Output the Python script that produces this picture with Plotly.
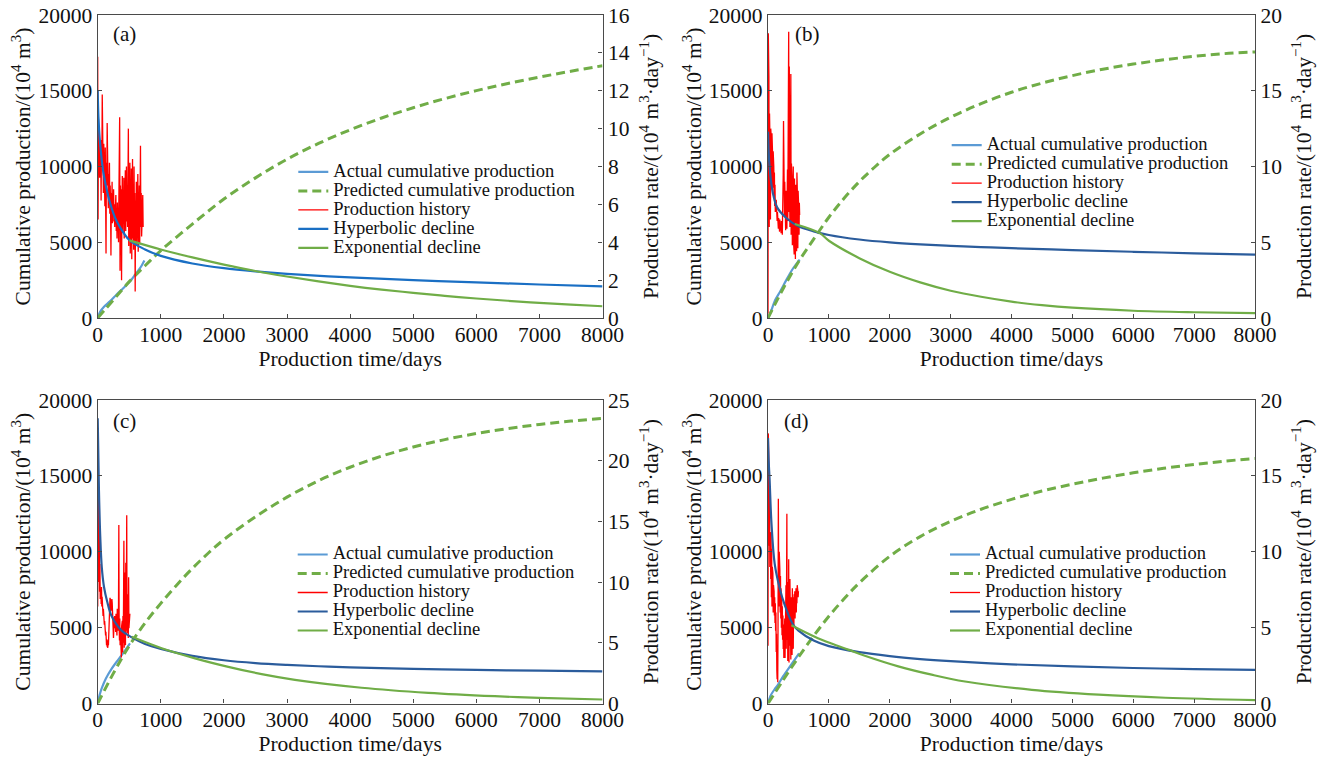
import plotly.graph_objects as go

SERIF = "Liberation Serif, 'Times New Roman', Times, serif"

# ---------------- panel (a) ----------------
a_actual_days = [0, 40, 100, 190, 300, 400, 455, 520, 600, 680, 740]
a_actual_cum = [0, 420, 750, 1080, 1550, 1950, 2180, 2450, 2900, 3350, 3800]
a_pred_days = [0, 250, 500, 750, 1000, 1500, 2000, 2500, 3000, 3500, 4000, 4500, 5000, 5500, 6000, 6500, 7000, 7500, 8000]
a_pred_cum = [0, 1200, 2400, 3450, 4450, 6200, 7850, 9250, 10480, 11520, 12420, 13200, 13880, 14480, 15010, 15480, 15900, 16290, 16650]
a_hist_days = list(range(0, 721, 6))
a_hist_rate = [13.8, 5.2, 10.5, 8.2, 9.6, 7.4, 9.0, 7.8, 8.6, 6.2, 9.4, 8.0, 11.8, 7.2, 8.8, 6.6, 9.2, 7.5, 8.4, 5.9,
               9.0, 6.8, 3.4, 8.2, 7.0, 10.3, 6.4, 8.0, 5.8, 7.6, 6.5, 8.2, 5.5, 7.0, 6.0, 3.3, 6.6, 5.4, 7.2, 5.0,
               6.3, 5.6, 6.8, 5.1, 6.0, 4.8, 6.2, 5.0, 6.5, 4.6, 5.8, 4.2, 6.1, 4.9, 5.6, 4.0, 6.4, 8.3, 10.6, 2.5,
               7.0, 5.2, 6.8, 2.0, 5.8, 7.5, 4.5, 6.6, 5.0, 7.4, 4.2, 6.9, 5.4, 7.8, 4.6, 6.2, 8.0, 5.1, 7.0, 4.8,
               6.5, 10.0, 3.8, 7.6, 5.2, 8.2, 3.4, 6.8, 4.6, 7.9, 3.1, 6.0, 8.4, 4.2, 7.0, 3.6, 8.0, 5.0, 6.6, 1.4,
               6.2, 4.4, 7.2, 3.8, 6.8, 4.9, 7.6, 3.5, 6.4, 5.2, 7.0, 3.9, 6.0, 9.1, 4.8, 6.6, 4.3, 6.2, 5.0, 6.5,
               4.8]
a_hyp_days = [0, 12, 36, 89, 169, 275, 353, 500, 750, 1000, 1500, 2000, 2500, 3000, 4000, 5000, 6000, 7000, 8000]
a_hyp_rate = [12.0, 10.6, 9.3, 7.7, 6.4, 5.3, 4.8, 4.12, 3.62, 3.28, 2.88, 2.63, 2.46, 2.33, 2.14, 2.0, 1.88, 1.77, 1.67]
a_exp_days = [500, 1000, 1500, 2000, 2500, 3000, 3500, 4000, 4500, 5000, 5500, 6000, 6500, 7000, 7500, 8000]
a_exp_rate = [4.1, 3.62, 3.2, 2.82, 2.48, 2.19, 1.93, 1.70, 1.5, 1.33, 1.17, 1.03, 0.91, 0.8, 0.71, 0.62]

# ---------------- panel (b) ----------------
b_actual_days = [0, 40, 120, 200, 300, 400, 520]
b_actual_cum = [0, 350, 1200, 1750, 2500, 3200, 3850]
b_pred_days = [0, 250, 500, 750, 1000, 1250, 1500, 1750, 2000, 2500, 3000, 3500, 4000, 4500, 5000, 5500, 6000, 6500, 7000, 7500, 8000]
b_pred_cum = [0, 1950, 3700, 5200, 6650, 7900, 9000, 9950, 10800, 12150, 13250, 14150, 14900, 15500, 16000, 16420, 16760, 17040, 17270, 17450, 17560]
b_hist_days = list(range(0, 521, 5))
b_hist_rate = [0.3, 18.8, 9.0, 15.9, 6.0, 13.5, 8.0, 11.0, 6.5, 12.5, 9.0, 11.8, 8.5, 12.2, 9.4, 10.8, 8.6, 11.0, 9.2, 10.0,
               8.0, 9.6, 7.4, 8.8, 7.0, 8.4, 7.2, 7.8, 6.6, 7.4, 6.4, 7.0, 6.2, 6.8, 5.9, 6.6, 6.0, 6.4, 5.7, 6.5,
               5.8, 6.3, 6.1, 5.6, 6.4, 5.9, 6.2, 5.5, 6.6, 7.8, 9.5, 13.0, 8.0, 10.2, 6.8, 9.0, 6.2, 7.5, 5.8, 8.4,
               6.5, 7.2, 5.9, 8.0, 9.8, 6.4, 13.5, 8.2, 18.9, 7.0, 16.6, 9.0, 6.0, 11.5, 7.2, 16.1, 5.5, 10.2, 6.4, 9.0,
               4.8, 8.4, 6.0, 10.0, 5.0, 7.6, 4.2, 9.2, 5.4, 7.0, 3.9, 8.8, 5.6, 7.4, 4.4, 9.6, 5.2, 7.8, 4.6, 8.4,
               6.0, 7.2, 5.5, 7.6, 6.8]
b_hyp_days = [0, 20, 60, 100, 150, 300, 500, 750, 1000, 1500, 2000, 2500, 3000, 3500, 4000, 5000, 6000, 7000, 8000]
b_hyp_rate = [12.3, 10.3, 8.7, 7.9, 7.3, 6.6, 6.05, 5.72, 5.48, 5.18, 4.99, 4.86, 4.76, 4.68, 4.61, 4.48, 4.37, 4.27, 4.18]
b_exp_days = [440, 850, 1000, 1500, 2000, 2500, 3000, 3500, 4000, 4500, 5000, 6000, 7000, 8000]
b_exp_rate = [6.2, 5.6, 5.1, 3.95, 3.05, 2.35, 1.8, 1.4, 1.08, 0.85, 0.68, 0.48, 0.38, 0.32]

# ---------------- panel (c) ----------------
c_actual_days = [0, 30, 63, 130, 222, 300, 380, 450, 512]
c_actual_cum = [0, 550, 990, 1650, 2300, 2750, 3190, 3600, 3956]
c_pred_days = [0, 250, 500, 750, 1000, 1250, 1500, 1750, 2000, 2500, 3000, 3500, 4000, 4500, 5000, 5500, 6000, 6500, 7000, 7500, 8000]
c_pred_cum = [0, 2000, 3800, 5300, 6600, 7800, 8900, 9900, 10800, 12300, 13600, 14680, 15570, 16300, 16900, 17390, 17790, 18120, 18390, 18610, 18790]
c_hist_days = list(range(0, 511, 5))
c_hist_rate = [8.0, 19.1, 12.5, 16.0, 10.0, 14.0, 9.2, 11.5, 8.6, 10.0, 9.4, 8.2, 9.6, 8.0, 8.8, 7.6, 8.4, 7.2, 7.8, 6.8,
               7.4, 6.5, 6.8, 6.0, 6.4, 5.6, 5.9, 5.0, 4.8, 5.3, 4.7, 5.0, 4.6, 5.2, 4.8, 5.6, 6.6, 7.6, 8.4, 8.7,
               8.6, 8.2, 7.6, 7.9, 8.5, 8.6, 8.3, 7.5, 6.6, 5.8, 5.4, 6.0, 7.0, 6.4, 7.2, 6.2, 6.8, 5.9, 7.4, 6.1,
               6.9, 5.6, 7.8, 6.0, 7.0, 6.0, 8.2, 14.7, 6.4, 5.2, 7.0, 4.8, 6.2, 4.0, 5.6, 3.8, 6.4, 4.4, 6.8, 4.2,
               7.2, 5.0, 8.6, 13.4, 4.6, 10.8, 5.2, 8.2, 4.8, 11.6, 6.0, 9.4, 15.5, 5.8, 12.0, 6.8, 9.0, 5.4, 10.4, 6.2,
               8.6, 7.0, 7.4]
c_hyp_days = [0, 20, 40, 65, 100, 150, 220, 380, 540, 750, 1000, 1500, 2000, 2500, 3000, 3500, 4000, 5000, 6000, 7000, 8000]
c_hyp_rate = [23.5, 17.5, 13.8, 11.2, 9.6, 8.4, 7.2, 6.0, 5.45, 4.9, 4.5, 3.92, 3.56, 3.33, 3.18, 3.07, 2.98, 2.86, 2.77, 2.7, 2.64]
c_exp_days = [539, 1014, 1542, 2070, 2598, 3126, 4182, 5240, 6293, 7000, 8000]
c_exp_rate = [5.49, 4.55, 3.72, 3.02, 2.42, 1.95, 1.3, 0.88, 0.6, 0.46, 0.33]

# ---------------- panel (d) ----------------
d_actual_days = [0, 40, 110, 165, 250, 384, 510]
d_actual_cum = [0, 500, 950, 1250, 1800, 2570, 3300]
d_pred_days = [0, 250, 500, 750, 1000, 1250, 1500, 2000, 2500, 3000, 3500, 4000, 4500, 5000, 5500, 6000, 6500, 7000, 7500, 8000]
d_pred_cum = [0, 1550, 3050, 4450, 5750, 6900, 7950, 9700, 11000, 12000, 12800, 13450, 14000, 14450, 14850, 15200, 15500, 15750, 15970, 16150]
d_hist_days = list(range(0, 501, 5))
d_hist_rate = [3.8, 17.8, 8.0, 15.6, 10.4, 13.8, 9.0, 11.2, 10.6, 8.2, 11.3, 7.0, 10.2, 6.4, 9.0, 7.4, 8.6, 6.0, 7.8, 6.8,
               7.4, 5.8, 7.0, 5.3, 6.6, 4.8, 6.0, 3.4, 4.6, 2.2, 1.6, 3.0, 1.4, 5.2, 13.5, 9.0, 6.4, 10.0, 7.2, 8.8,
               6.0, 8.4, 5.6, 7.6, 5.0, 7.0, 4.5, 6.4, 4.2, 5.8, 3.6, 5.2, 3.0, 4.8, 3.4, 5.6, 3.0, 6.2, 4.0, 7.8,
               3.6, 9.4, 12.5, 4.2, 8.0, 2.8, 7.2, 3.4, 9.5, 2.7, 6.6, 3.8, 8.2, 3.0, 5.8, 2.9, 7.0, 4.4, 6.2, 3.2,
               7.6, 4.0, 5.4, 3.6, 7.0, 5.0, 7.2, 6.0, 7.4, 5.6, 7.0, 6.4, 7.6, 6.0, 7.2, 6.6, 7.8, 6.8, 7.4, 7.0,
               7.4]
d_hyp_days = [0, 11, 27, 55, 110, 192, 274, 412, 500, 750, 1000, 1500, 2000, 2500, 3000, 4000, 5000, 6000, 7000, 8000]
d_hyp_rate = [17.5, 16.0, 14.7, 12.0, 9.2, 7.6, 6.5, 5.2, 4.8, 4.15, 3.78, 3.38, 3.12, 2.93, 2.79, 2.58, 2.44, 2.34, 2.27, 2.22]
d_exp_days = [384, 768, 1043, 1318, 1591, 2140, 2688, 3237, 4335, 5432, 6529, 8000]
d_exp_rate = [5.16, 4.4, 3.95, 3.55, 3.15, 2.45, 1.9, 1.45, 0.9, 0.58, 0.38, 0.22]

panel_labels = ["(a)", "(b)", "(c)", "(d)"]
x_ticks = [0, 1000, 2000, 3000, 4000, 5000, 6000, 7000, 8000]
cum_ticks = [0, 5000, 10000, 15000, 20000]
rate_ticks = [[0, 2, 4, 6, 8, 10, 12, 14, 16], [0, 5, 10, 15, 20], [0, 5, 10, 15, 20, 25], [0, 5, 10, 15, 20]]
series_names = ["Actual cumulative production", "Predicted cumulative production",
                "Production history", "Hyperbolic decline", "Exponential decline"]

# ---------------- styles / layout geometry ----------------
C_ACTUAL = "#5b9bd5"
C_PRED = "#70ad47"
C_HIST = "#ff0000"
C_HYP = ["#1a6fc4", "#2b5c9c", "#2b5c9c", "#2b5c9c"]
C_EXP = "#70ad47"

W, H = 1336, 763
x_domains = [[97.7 / W, 602.5 / W], [768 / W, 1255 / W], [97.7 / W, 602.5 / W], [768 / W, 1255 / W]]
y_domains = [[1 - 318 / H, 1 - 15 / H], [1 - 318 / H, 1 - 15 / H],
             [1 - 703.5 / H, 1 - 400 / H], [1 - 703.5 / H, 1 - 400 / H]]
legend_pos = [(293.3, 157.4), (946.7, 130.7), (292.7, 540.0), (945.0, 540.0)]
label_pos = [(111, 34), (793, 34), (111, 421), (782, 421)]

panels = [
    (a_actual_days, a_actual_cum, a_pred_days, a_pred_cum, a_hist_days, a_hist_rate,
     a_hyp_days, a_hyp_rate, a_exp_days, a_exp_rate),
    (b_actual_days, b_actual_cum, b_pred_days, b_pred_cum, b_hist_days, b_hist_rate,
     b_hyp_days, b_hyp_rate, b_exp_days, b_exp_rate),
    (c_actual_days, c_actual_cum, c_pred_days, c_pred_cum, c_hist_days, c_hist_rate,
     c_hyp_days, c_hyp_rate, c_exp_days, c_exp_rate),
    (d_actual_days, d_actual_cum, d_pred_days, d_pred_cum, d_hist_days, d_hist_rate,
     d_hyp_days, d_hyp_rate, d_exp_days, d_exp_rate),
]


def lgname(t):
    return '<span style="font-size:18.5px">' + t + '</span>'


fig = go.Figure()
layout = {}
AX_COLOR = "#4a4a4a"
tickfont = dict(family=SERIF, size=21.5, color="#111111")
titlefont = dict(family=SERIF, size=21.5, color="#111111")

for i, p in enumerate(panels):
    (act_d, act_v, pr_d, pr_v, hi_d, hi_v, hy_d, hy_v, ex_d, ex_v) = p
    n = i + 1
    xname = "x" if n == 1 else f"x{n}"
    yl = 2 * i + 1
    yr = 2 * i + 2
    ylname = "y" if yl == 1 else f"y{yl}"
    yrname = f"y{yr}"
    leg = "legend" if n == 1 else f"legend{n}"

    fig.add_trace(go.Scatter(x=act_d, y=act_v, xaxis=xname, yaxis=ylname, mode="lines",
                             line=dict(color=C_ACTUAL, width=2.2, shape="spline", smoothing=0.8),
                             name=lgname(series_names[0]), legend=leg))
    fig.add_trace(go.Scatter(x=pr_d, y=pr_v, xaxis=xname, yaxis=ylname, mode="lines",
                             line=dict(color=C_PRED, width=3, dash="9px,5px", shape="spline", smoothing=1.0),
                             name=lgname(series_names[1]), legend=leg))
    fig.add_trace(go.Scatter(x=hi_d, y=hi_v, xaxis=xname, yaxis=yrname, mode="lines",
                             line=dict(color=C_HIST, width=1.3),
                             name=lgname(series_names[2]), legend=leg))
    fig.add_trace(go.Scatter(x=hy_d, y=hy_v, xaxis=xname, yaxis=yrname, mode="lines",
                             line=dict(color=C_HYP[i], width=2.2, shape="spline", smoothing=1.0),
                             name=lgname(series_names[3]), legend=leg))
    fig.add_trace(go.Scatter(x=ex_d, y=ex_v, xaxis=xname, yaxis=yrname, mode="lines",
                             line=dict(color=C_EXP, width=2.2, shape="spline", smoothing=1.0),
                             name=lgname(series_names[4]), legend=leg))

    xkey = "xaxis" if n == 1 else f"xaxis{n}"
    ylkey = "yaxis" if yl == 1 else f"yaxis{yl}"
    yrkey = f"yaxis{yr}"
    rt = rate_ticks[i]
    layout[xkey] = dict(domain=x_domains[i], anchor=ylname, range=[0, 8000], automargin=False,
                        tickvals=x_ticks, ticktext=[str(v) for v in x_ticks],
                        ticks="inside", ticklen=4, ticklabelstandoff=-3,
                        tickcolor=AX_COLOR, showline=True, linecolor=AX_COLOR, linewidth=1.3,
                        mirror=True, showgrid=False, zeroline=False, tickfont=tickfont,
                        title=dict(text="Production time/days", font=titlefont, standoff=1))
    layout[ylkey] = dict(domain=y_domains[i], anchor=xname, range=[0, 20000], automargin=False,
                         tickvals=cum_ticks, ticktext=[str(v) for v in cum_ticks],
                         ticks="inside", ticklen=4,
                         tickcolor=AX_COLOR, showline=True, linecolor=AX_COLOR, linewidth=1.3,
                         showgrid=False, zeroline=False, tickfont=tickfont,
                         title=dict(text="Cumulative production/(10<sup>4</sup> m<sup>3</sup>)",
                                    font=titlefont, standoff=1))
    layout[yrkey] = dict(domain=y_domains[i], anchor=xname, overlaying=ylname, side="right",
                         range=[0, rt[-1]], automargin=False,
                         tickvals=rt, ticktext=[str(v) for v in rt],
                         ticks="inside", ticklen=4, tickcolor=AX_COLOR, showline=True,
                         linecolor=AX_COLOR, linewidth=1.3, showgrid=False, zeroline=False,
                         tickfont=tickfont,
                         title=dict(text="Production rate/(10<sup>4</sup> m<sup>3</sup>·day<sup>−1</sup>)",
                                    font=titlefont, standoff=14))
    lx, ly = legend_pos[i]
    layout[leg] = dict(x=lx / W, y=1 - ly / H, xanchor="left", yanchor="top",
                       bgcolor="rgba(0,0,0,0)", borderwidth=0,
                       font=dict(family=SERIF, size=12, color="#111111"),
                       itemwidth=30, tracegroupgap=0)

annotations = []
for i, lab in enumerate(panel_labels):
    px, py = label_pos[i]
    annotations.append(dict(text=lab, x=px / W, y=1 - py / H, xref="paper", yref="paper",
                            xanchor="left", yanchor="middle", showarrow=False,
                            font=dict(family=SERIF, size=21, color="#111111")))

fig.update_layout(**layout)
fig.update_layout(width=W, height=H, margin=dict(l=0, r=0, t=0, b=0, autoexpand=False),
                  paper_bgcolor="white", plot_bgcolor="white",
                  annotations=annotations, showlegend=True,
                  font=dict(family=SERIF, color="#111111"))

fig.write_html("out.html")
